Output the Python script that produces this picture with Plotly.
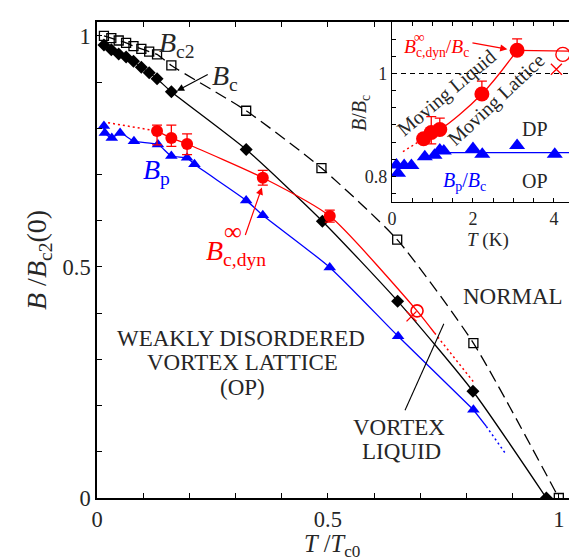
import plotly.graph_objects as go
import numpy as np

FONT = "Liberation Serif"
TXT = "#262626"
RED = "#ff0000"
BLUE = "#0000ff"

# ---------------- main panel data ----------------
bc2_x = [0.015, 0.031, 0.047, 0.063, 0.079, 0.096, 0.113, 0.130, 0.161, 0.323, 0.486, 0.650, 0.815, 1.000]
bc2_y = [1.000, 0.995, 0.990, 0.985, 0.978, 0.972, 0.966, 0.960, 0.936, 0.838, 0.714, 0.559, 0.335, 0.000]

bc_x = [0.015, 0.031, 0.047, 0.063, 0.079, 0.096, 0.113, 0.130, 0.161, 0.323, 0.488, 0.651, 0.814, 0.973]
bc_y = [0.980, 0.970, 0.961, 0.954, 0.945, 0.932, 0.920, 0.907, 0.879, 0.754, 0.599, 0.426, 0.231, 0.000]

bp_x = [0.015, 0.017, 0.032, 0.050, 0.080, 0.132, 0.161, 0.195, 0.211, 0.323, 0.359, 0.504, 0.652, 0.815]
bp_y = [0.805, 0.790, 0.779, 0.790, 0.772, 0.765, 0.740, 0.736, 0.722, 0.644, 0.612, 0.499, 0.350, 0.191]
bp_solid_ext_x = [0.815, 0.843]
bp_solid_ext_y = [0.191, 0.155]
bp_dot_x = [0.843, 0.886]
bp_dot_y = [0.155, 0.094]

bdyn_x = [0.130, 0.161, 0.195, 0.359, 0.504]
bdyn_y = [0.794, 0.779, 0.766, 0.693, 0.610]
bdyn_err_plus = [0.013, 0.028, 0.022, 0.016, 0.013]
bdyn_err_minus = [0.030, 0.018, 0.023, 0.016, 0.013]
bdyn_open_x = [0.693]
bdyn_open_y = [0.405]
bdyn_cross_x = [0.681]
bdyn_cross_y = [0.393]
bdyn_solid_end_x = [0.731]
bdyn_solid_end_y = [0.357]
bdyn_dot_hi_x = [0.024, 0.130]
bdyn_dot_hi_y = [0.812, 0.794]
bdyn_dot_lo_x = [0.731, 0.817]
bdyn_dot_lo_y = [0.357, 0.249]

main_tickvals = [0, 0.5, 1]
main_ticktext = ["0", "0.5", "1"]

# ---------------- inset data ----------------
in_dyn_x = [0.78, 0.97, 1.18, 2.22, 3.09]
in_dyn_y = [0.873, 0.885, 0.891, 0.960, 1.045]
in_dyn_err_plus = [0.0, 0.031, 0.022, 0.025, 0.022]
in_dyn_err_minus = [0.0, 0.022, 0.0, 0.0, 0.0]
in_dyn_flat_x = [3.09, 4.52]
in_dyn_flat_y = [1.045, 1.043]
in_dyn_dot_x = [0.27, 0.78]
in_dyn_dot_y = [0.848, 0.873]
in_open_x = [4.22]
in_open_y = [1.037]
in_cross_x = [4.06]
in_cross_y = [1.008]

in_bp_x = [0.11, 0.15, 0.30, 0.48, 0.81, 1.05, 1.18, 1.28, 2.00, 2.23, 3.09, 4.02]
in_bp_y = [0.822, 0.806, 0.821, 0.821, 0.838, 0.841, 0.851, 0.849, 0.854, 0.843, 0.860, 0.843]
in_bp_line_x = [1.25, 4.52]
in_bp_line_y = [0.846, 0.846]

in_xtickvals = [0, 2, 4]
in_xticktext = ["0", "2", "4"]
in_ytickvals = [0.8, 1.0]
in_yticktext = ["0.8", "1"]

fig = go.Figure()

# ---- main traces ----
fig.add_trace(go.Scatter(x=bc2_x, y=bc2_y, mode="lines+markers",
                         line=dict(color="black", width=1.3, dash="12px,6px", shape="spline", smoothing=0.6),
                         marker=dict(symbol="square-open", size=9, color="black", line=dict(width=1.3))))
fig.add_trace(go.Scatter(x=bc_x, y=bc_y, mode="lines+markers",
                         line=dict(color="black", width=1.3, shape="spline", smoothing=0.6),
                         marker=dict(symbol="diamond", size=10, color="black")))

fig.add_trace(go.Scatter(x=bp_x, y=bp_y, mode="lines+markers",
                         line=dict(color=BLUE, width=1.3, shape="spline", smoothing=0.6),
                         marker=dict(symbol="triangle-up", size=11, color=BLUE)))
fig.add_trace(go.Scatter(x=bp_solid_ext_x, y=bp_solid_ext_y, mode="lines",
                         line=dict(color=BLUE, width=1.3)))
fig.add_trace(go.Scatter(x=bp_dot_x, y=bp_dot_y, mode="lines",
                         line=dict(color=BLUE, width=1.5, dash="2px,3px")))

red_line_x = bdyn_x + bdyn_open_x + bdyn_solid_end_x
red_line_y = bdyn_y + bdyn_open_y + bdyn_solid_end_y
fig.add_trace(go.Scatter(x=red_line_x, y=red_line_y, mode="lines",
                         line=dict(color=RED, width=1.3, shape="spline", smoothing=0.6)))
fig.add_trace(go.Scatter(x=bdyn_dot_hi_x, y=bdyn_dot_hi_y, mode="lines",
                         line=dict(color=RED, width=1.5, dash="2px,3px")))
fig.add_trace(go.Scatter(x=bdyn_dot_lo_x, y=bdyn_dot_lo_y, mode="lines",
                         line=dict(color=RED, width=1.5, dash="2px,3px")))
fig.add_trace(go.Scatter(x=bdyn_x, y=bdyn_y, mode="markers",
                         marker=dict(symbol="circle", size=12, color=RED),
                         error_y=dict(type="data", symmetric=False, array=bdyn_err_plus,
                                      arrayminus=bdyn_err_minus, color=RED, thickness=1.3, width=5)))
fig.add_trace(go.Scatter(x=bdyn_open_x, y=bdyn_open_y, mode="markers",
                         marker=dict(symbol="circle-open", size=12, color=RED, line=dict(width=1.6))))
fig.add_trace(go.Scatter(x=bdyn_cross_x, y=bdyn_cross_y, mode="markers",
                         marker=dict(symbol="x-thin-open", size=10, color=RED, line=dict(width=1.4, color=RED))))

# ---- inset traces ----
fig.add_trace(go.Scatter(x=[0, 4.52], y=[1.0, 1.0], mode="lines", xaxis="x2", yaxis="y2",
                         line=dict(color="black", width=1.1, dash="5px,4px")))
fig.add_trace(go.Scatter(x=in_bp_line_x, y=in_bp_line_y, mode="lines", xaxis="x2", yaxis="y2",
                         line=dict(color=BLUE, width=1.3)))
fig.add_trace(go.Scatter(x=in_bp_x, y=in_bp_y, mode="markers", xaxis="x2", yaxis="y2",
                         marker=dict(symbol="triangle-up", size=14, color=BLUE)))
fig.add_trace(go.Scatter(x=in_dyn_x, y=in_dyn_y, mode="lines", xaxis="x2", yaxis="y2",
                         line=dict(color=RED, width=1.3, shape="spline", smoothing=1.0)))
fig.add_trace(go.Scatter(x=in_dyn_flat_x, y=in_dyn_flat_y, mode="lines", xaxis="x2", yaxis="y2",
                         line=dict(color=RED, width=1.3)))
fig.add_trace(go.Scatter(x=in_dyn_dot_x, y=in_dyn_dot_y, mode="lines", xaxis="x2", yaxis="y2",
                         line=dict(color=RED, width=1.4, dash="2px,3px")))
fig.add_trace(go.Scatter(x=in_dyn_x, y=in_dyn_y, mode="markers", xaxis="x2", yaxis="y2",
                         marker=dict(symbol="circle", size=15, color=RED),
                         error_y=dict(type="data", symmetric=False, array=in_dyn_err_plus,
                                      arrayminus=in_dyn_err_minus, color=RED, thickness=1.3, width=5)))
fig.add_trace(go.Scatter(x=in_open_x, y=in_open_y, mode="markers", xaxis="x2", yaxis="y2",
                         marker=dict(symbol="circle-open", size=14, color=RED, line=dict(width=1.4))))
fig.add_trace(go.Scatter(x=in_cross_x, y=in_cross_y, mode="markers", xaxis="x2", yaxis="y2",
                         marker=dict(symbol="x-thin-open", size=11, color=RED, line=dict(width=1.3, color=RED))))

# pixel -> paper helpers (plot area: x 89..573, y 14..490)
L, R, T, B = 89, 573, 14, 490
def px(x):
    return (x - L) / (R - L)
def py(y):
    return (B - y) / (B - T)

ann = []
def text(x, y, s, size, color=TXT, xref="x", yref="y", angle=0, xanchor="center", yanchor="middle"):
    ann.append(dict(x=x, y=y, xref=xref, yref=yref, text=s, showarrow=False, textangle=angle,
                    xanchor=xanchor, yanchor=yanchor, font=dict(family=FONT, size=size, color=color)))

def arrow(x0, y0, x1, y1, color, xref="x", yref="y"):
    ann.append(dict(x=x1, y=y1, ax=x0, ay=y0, xref=xref, yref=yref, axref=xref, ayref=yref,
                    text="", showarrow=True, arrowhead=2, arrowsize=1.2, arrowwidth=1.2,
                    arrowcolor=color, standoff=0))

# axis titles
text(px(30), py(252), "<i>B</i> /<i>B</i><sub>c2</sub>(0)", 28, xref="paper", yref="paper", angle=-90)
text(px(324), py(537), "<i>T</i> /<i>T</i><sub>c0</sub>", 24.5, xref="paper", yref="paper")

# curve labels
LBL = 28
text(0.130, 0.982, "<i>B</i><sub>c2</sub>", LBL, xanchor="left")
text(0.245, 0.909, "<i>B</i><sub>c</sub>", LBL, xanchor="left")
arrow(0.243, 0.918, 0.173, 0.881, "black")
text(0.096, 0.707, "<i>B</i><sub>p</sub>", LBL, color=BLUE, xanchor="left")
text(0.232, 0.532, "<i>B</i><sub>c,dyn</sub>", LBL, color=RED, xanchor="left")
text(0.294, 0.576, "∞", 25, color=RED, xanchor="center")
arrow(0.320, 0.566, 0.357, 0.672, RED)

# region labels
REG = 23
text(0.90, 0.436, "NORMAL", REG)
text(0.312, 0.345, "WEAKLY DISORDERED", REG)
text(0.314, 0.293, "VORTEX LATTICE", REG)
text(0.316, 0.240, "(OP)", REG)
text(0.654, 0.153, "VORTEX", REG)
text(0.660, 0.101, "LIQUID", REG)

# inset labels
text(px(352), py(105), "<i>B</i>/<i>B</i><sub>c</sub>", 20, xref="paper", yref="paper", angle=-90)
text(px(480), py(232), "<i>T</i> (K)", 19, xref="paper", yref="paper")
text(0.25, 1.050, "<i>B</i><sub>c,dyn</sub>/<i>B</i><sub>c</sub>", 19.5, color=RED, xref="x2", yref="y2",
     xanchor="left")
text(0.67, 1.070, "∞", 15, color=RED, xref="x2", yref="y2")
arrow(1.95, 1.06, 2.85, 1.047, RED, xref="x2", yref="y2")
text(1.37, 0.962, "Moving Liquid", 20, xref="x2", yref="y2", angle=-40)
text(2.58, 0.950, "Moving Lattice", 20, xref="x2", yref="y2", angle=-43)
text(3.54, 0.892, "DP", 20, xref="x2", yref="y2")
text(3.54, 0.790, "OP", 20, xref="x2", yref="y2")
text(1.79, 0.790, "<i>B</i><sub>p</sub>/<i>B</i><sub>c</sub>", 20, color=BLUE, xref="x2", yref="y2")

shapes = [dict(type="line", xref="x", yref="y", x0=0.667, y0=0.19, x1=0.751, y1=0.377,
               line=dict(color="black", width=1.1))]

axis_common = dict(showline=True, linecolor="black", linewidth=1.6, mirror="ticks",
                   ticks="inside", tickcolor="black", tickwidth=1.1, showgrid=False, zeroline=False,
                   automargin=False, tickmode="array", tickfont=dict(family=FONT, size=22.5, color=TXT))
inset_axis = {**axis_common, "tickfont": dict(family=FONT, size=18, color=TXT), "linewidth": 1.4}

fig.update_layout(
    width=577, height=560,
    margin=dict(l=L, r=577 - R, t=T, b=560 - B, pad=0, autoexpand=False),
    paper_bgcolor="white", plot_bgcolor="white",
    showlegend=False,
    font=dict(family=FONT, color=TXT),
    xaxis=dict(range=[0, 1.048], tickvals=main_tickvals, ticktext=main_ticktext, ticklen=5,
               minor=dict(ticks="inside", tick0=0, dtick=0.1, ticklen=5, tickwidth=1.1, tickcolor="black"),
               **axis_common),
    yaxis=dict(range=[0, 1.03], tickvals=main_tickvals, ticktext=main_ticktext, ticklen=5,
               minor=dict(ticks="inside", tick0=0, dtick=0.1, ticklen=5, tickwidth=1.1, tickcolor="black"),
               **axis_common),
    xaxis2=dict(domain=[px(384), px(567)], anchor="y2", range=[0, 4.52],
                tickvals=in_xtickvals, ticktext=in_xticktext, ticklen=4,
                minor=dict(ticks="inside", tick0=0, dtick=0.5, ticklen=4, tickwidth=1.1, tickcolor="black"),
                **inset_axis),
    yaxis2=dict(domain=[py(194), 1.0], anchor="x2", range=[0.75, 1.1],
                tickvals=in_ytickvals, ticktext=in_yticktext, ticklen=4,
                minor=dict(ticks="inside", tick0=0.8, dtick=0.2 / 6, ticklen=4, tickwidth=1.1, tickcolor="black"),
                **inset_axis),
    annotations=ann,
    shapes=shapes,
)

fig.write_html("out.html")
